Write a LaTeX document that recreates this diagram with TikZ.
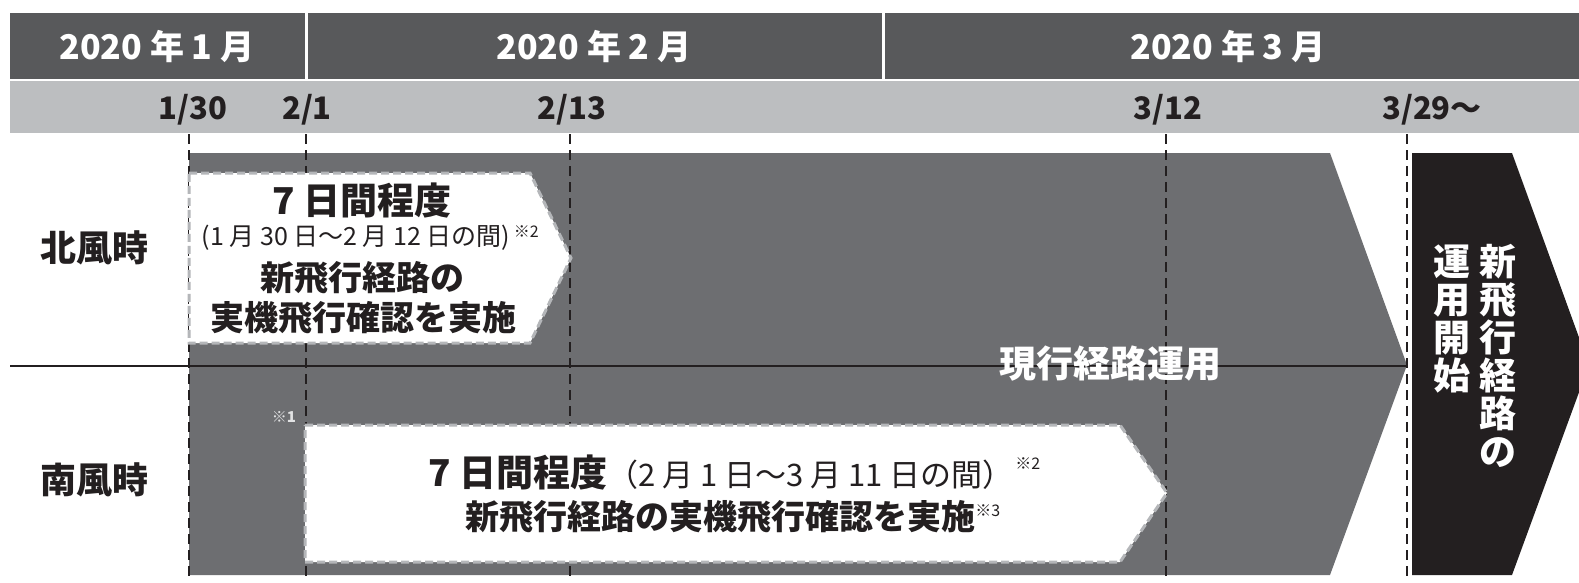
\documentclass[tikz,border=0pt]{standalone}
\usepackage{fontspec}
\setmainfont{Noto Sans CJK JP}
\definecolor{hdark}{HTML}{58595B}
\definecolor{hlight}{HTML}{BCBEC0}
\definecolor{bodygray}{HTML}{6D6E71}
\definecolor{ink}{HTML}{231F20}
\definecolor{bord}{HTML}{B4B6B9}
\definecolor{komegray}{HTML}{E2E3E4}
\newcommand{\fs}[1]{\fontsize{#1}{#1}\selectfont}
\tikzset{
  hdr/.style={text=white, font=\bfseries\fs{34}, inner sep=0pt},
  datelbl/.style={text=ink, font=\bfseries\fs{31}, inner sep=0pt},
  rowlbl/.style={text=ink, font=\bfseries\fs{36}, inner sep=0pt},
  boxtxt/.style={text=ink, font=\bfseries\fs{34}, inner sep=0pt},
  bigtxt/.style={text=ink, font=\bfseries\fs{37}, inner sep=0pt},
  subtxt/.style={text=ink, font=\mdseries\fs{25}, inner sep=0pt},
  note/.style={text=ink, inner sep=0pt, anchor=west, font=\fs{16}},
  vline/.style={ink, line width=1.4pt, dash pattern=on 10pt off 6pt},
  testbox/.style={fill=white, draw=bord, line width=3pt, dash pattern=on 8pt off 4pt},
  vtxt/.style={text=white, inner sep=0pt, align=center, font=\bfseries\fontsize{37}{38}\selectfont}
}
\begin{document}
\begin{tikzpicture}[x=1pt,y=-1pt]
\useasboundingbox (0,0) rectangle (1579,582);
\clip (0,0) rectangle (1579,582);
% header
\fill[hdark] (10,13) rectangle (1579,79);
\fill[hlight] (10,81) rectangle (1579,133);
\draw[white, line width=3pt] (306,13) -- (306,79);
\draw[white, line width=3pt] (883,13) -- (883,79);
\node[hdr] (h1) at (157,47) {2020 年 1 月};
\node[hdr] (h2) at (594,47) {2020 年 2 月};
\node[hdr] (h3) at (1228,47) {2020 年 3 月};
\node[datelbl] (d1) at (193,110) {1/30};
\node[datelbl] (d2) at (307,110) {2/1};
\node[datelbl] (d3) at (572,110) {2/13};
\node[datelbl] (d4) at (1168,110) {3/12};
\node[datelbl, anchor=west] (d5) at (1382,110) {3/29～};
% main gray arrow
\fill[bodygray] (189,153) -- (1330,153) -- (1407,365) -- (1330,575) -- (189,575) -- cycle;
% dark arrow
\fill[ink] (1412,153) -- (1512,153) -- (1589,365) -- (1512,575) -- (1412,575) -- cycle;
% dashed verticals
\foreach \x in {189,306,570,1166,1407} \draw[vline] (\x,134) -- (\x,582);
% horizontal divider
\coordinate (hl0) at (10,366);
\coordinate (hl1) at (1407,366);
\draw[ink, line width=2pt] (hl0) -- (hl1);
% row labels
\node[rowlbl] (north) at (94,248) {北風時};
\node[rowlbl] (south) at (94,480) {南風時};
% north test box
\draw[testbox] (189,173) -- (530,173) -- (571,258) -- (530,343) -- (189,343) -- cycle;
\node[bigtxt] (n1) at (362,201) {7 日間程度};
\node[subtxt] (n2) at (356,238) {(1 月 30 日～2 月 12 日の間)};
\node[note] (n2k) at ([xshift=3pt,yshift=6pt]n2.east) {※2};
\node[boxtxt] (n3) at (362,278) {新飛行経路の};
\node[boxtxt] (n4) at (363,318) {実機飛行確認を実施};
% south test box
\draw[testbox] (305,425) -- (1120,425) -- (1167,493) -- (1120,562) -- (305,562) -- cycle;
\node[bigtxt, anchor=base west] (s1) at (428,486) {7 日間程度{\mdseries\fs{31}（2 月 1 日～3 月 11 日の間）}};
\node[note] (s1k) at ([xshift=1pt,yshift=8pt]s1.east) {※2};
\node[boxtxt] (s2) at (720,517) {新飛行経路の実機飛行確認を実施};
\node[note] (s2k) at ([yshift=6pt]s2.east) {※3};
% labels on gray
\node[text=white, font=\bfseries\fs{37}, inner sep=0pt] (cur) at (1110,364) {現行経路運用};
\node[text=komegray, font=\bfseries\fs{15}, inner sep=0pt] (k1) at (284,417) {※1};
% vertical text in dark arrow
\node[vtxt] (v1) at (1498,356) {新\\飛\\行\\経\\路\\の};
\node[vtxt] (v2) at (1452,319) {運\\用\\開\\始};
\end{tikzpicture}
\end{document}
